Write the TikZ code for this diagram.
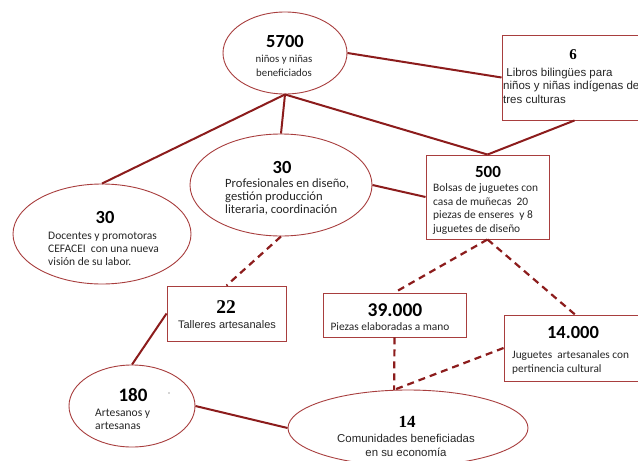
\documentclass[tikz,border=0pt]{standalone}
\usepackage{fontspec}
\usetikzlibrary{shapes.geometric}
\newfontfamily\calfont{Carlito}
\newfontfamily\arifont{Liberation Sans}
\newfontfamily\serfont{Liberation Serif}
\definecolor{linkred}{RGB}{140,28,28}
\definecolor{edgered}{RGB}{168,62,62}
\tikzset{
  oval/.style={ellipse, draw=edgered, line width=0.9pt, fill=white, inner sep=0pt},
  card/.style={rectangle, draw=edgered, line width=0.9pt, fill=white, inner sep=0pt},
  link/.style={draw=linkred, line width=2pt},
  dashlink/.style={draw=linkred, line width=2.2pt, dash pattern=on 7pt off 5pt},
  numcal/.style={inner sep=0pt, anchor=base, text=black, font=\calfont\bfseries\fontsize{#1}{#1}\selectfont},
  numser/.style={inner sep=0pt, anchor=base, text=black, font=\serfont\bfseries\fontsize{#1}{#1}\selectfont},
  % multi-line blocks are placed by the baseline of their last line
  bodycal/.style 2 args={inner sep=0pt, anchor=base west, align=left, text=black!85, font=\calfont\fontsize{#1}{#2}\selectfont},
  bodyari/.style 2 args={inner sep=0pt, anchor=base west, align=left, text=black!85, font=\arifont\fontsize{#1}{#2}\selectfont},
}
\begin{document}
\begin{tikzpicture}[x=1pt, y=-1pt]
\useasboundingbox (0,0) rectangle (638,461);
\clip (0,0) rectangle (638,461);
\fill[white] (0,0) rectangle (638,461);

% shapes
\node[oval, minimum width=124pt, minimum height=82pt] (e5700) at (285,53) {};
\node[card, minimum width=158pt, minimum height=85pt] (b6) at (581,77.5) {};
\node[oval, minimum width=178pt, minimum height=100pt] (e30a) at (102,234) {};
\node[oval, minimum width=182pt, minimum height=102pt] (e30b) at (281,185) {};
\node[card, minimum width=123pt, minimum height=84pt] (b500) at (487.5,197) {};
\node[card, minimum width=119pt, minimum height=55pt] (b22) at (226.5,313.5) {};
\node[card, minimum width=143pt, minimum height=44pt] (b39) at (394.5,315) {};
\node[card, minimum width=142pt, minimum height=66pt] (b14k) at (575,348) {};
\node[oval, minimum width=126pt, minimum height=82pt] (e180) at (132,406) {};
\node[oval, minimum width=240pt, minimum height=76pt] (e14) at (408,428) {};

% connectors
\draw[link] (e5700.east) -- (b6.west);
\draw[link] (e5700.south) -- (e30a.north);
\draw[link] (e5700.south) -- (e30b.north);
\draw[link] (e5700.south) -- (b500.north);
\draw[link] ([xshift=73pt]b6.south west) -- (b500.north);
\draw[link] (e30b.east) -- (b500.west);
\draw[dashlink] (e30b.south) -- (b22.north);
\draw[link] (b22.west) -- (e180.north);
\draw[link] (e180.east) -- (e14.west);
\draw[dashlink] (b500.south) -- (b39.north);
\draw[dashlink] (b500.south) -- (b14k.north);
\draw[dashlink] (b39.south) -- (e14.110);
\draw[dashlink] (b14k.west) -- (e14.110);

% texts
\node[numcal=18.5] (n5700) at (285,47.5) {5700};
\node[bodycal={10.8}{14}, anchor=base, align=center] (t5700) at (284,76) {niños y niñas\\beneficiados};

\node[numser=15] (n6) at (573,59) {6};
\node[bodyari={11.5}{13.5}] (t6) at (503,103) {\ Libros bilingües para\\niños y niñas indígenas de\\tres culturas};

\node[numcal=18.5] (n30a) at (105,223) {30};
\node[bodycal={11.5}{13.1}] (t30a) at (48,265.7) {Docentes y promotoras\\CEFACEI\ \ con una nueva\\visión de su labor.};

\node[numcal=18.5] (n30b) at (282,173) {30};
\node[bodycal={12.6}{13}] (t30b) at (225,213.3) {Profesionales en diseño,\\gestión producción\\literaria, coordinación};

\node[numcal=17] (n500) at (488,177) {500};
\node[bodycal={11.4}{13.6}] (t500) at (433,232.3) {Bolsas de juguetes con\\casa de muñecas\ \ 20\\piezas de enseres\ \ y 8\\juguetes de diseño};

\node[numser=19.5] (n22) at (226,313) {22};
\node[bodyari={11}{13}, anchor=base] (t22) at (227,328) {Talleres artesanales};

\node[numcal=19.5] (n39) at (395,316) {39.000};
\node[bodycal={11.4}{13}, anchor=base] (t39) at (390,330.5) {Piezas elaboradas a mano};

\node[numcal=18.5] (n14k) at (573,338) {14.000};
\node[bodycal={11.3}{14}] (t14k) at (512,372.5) {Juguetes\ \ artesanales con\\pertinencia cultural};

\node[numcal=19] (n180) at (133,401) {180};
\node[bodycal={11.6}{13}] (t180) at (95,429.5) {Artesanos y\\artesanas};
\fill[black!70] (169,393) circle (0.7pt);

\node[numser=17] (n14) at (407,427) {14};
\node[bodyari={11.4}{14}, anchor=base, align=center] (t14) at (406,456) {Comunidades beneficiadas\\en su economía};
\end{tikzpicture}
\end{document}
